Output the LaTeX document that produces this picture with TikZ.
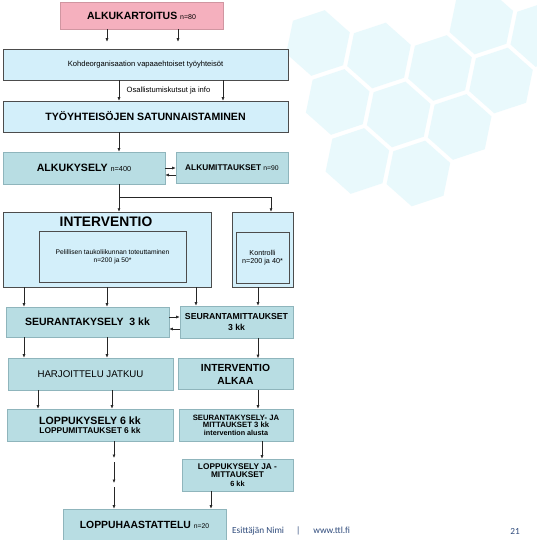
\documentclass[tikz,border=0pt]{standalone}
\usepackage{fontspec}
\setmainfont{Liberation Sans}
\newfontfamily\footfont{Carlito}
\usetikzlibrary{arrows.meta,calc}
\definecolor{pinkfill}{HTML}{F5B0BE}
\definecolor{lblue}{HTML}{D3EFFA}
\definecolor{tealfill}{HTML}{B8DDE3}
\definecolor{tealdraw}{HTML}{8FB5BC}
\definecolor{hexc}{HTML}{E9F9FC}
\definecolor{footc}{HTML}{2F4B7C}
\tikzset{
  boxbase/.style={rectangle, inner sep=1pt, align=center, text=black},
  pinkbox/.style={boxbase, fill=pinkfill, draw=pinkfill!85!black},
  bluebox/.style={boxbase, fill=lblue, draw=black!70, line width=0.5pt},
  tealbox/.style={boxbase, fill=tealfill, draw=tealdraw, line width=0.6pt},
  arr/.style={-{Latex[length=3.5pt,width=3pt]}, line width=0.6pt, black!85},
  ln/.style={line width=0.6pt, black!85},
  hexa/.style={fill=hexc},
}
\newcommand{\fs}[2]{\fontsize{#1}{#2}\selectfont}
\begin{document}
\begin{tikzpicture}[x=1pt,y=-1pt]
\useasboundingbox (0,0) rectangle (537,540);
\fill[white] (0,0) rectangle (537,540);
% background hexagons
\foreach \hx/\hy in {318/43,379/55.5,440/68,481.3/21.5,542.3/34,337.7/102,398.7/114.5,501/80.5,459.7/127,357.4/161,418.4/173.5}{
  \begin{scope}[shift={(\hx,\hy)}]
    \fill[hexa] (41.6:33.5) -- (101.6:33.5) -- (161.6:33.5) -- (221.6:33.5) -- (281.6:33.5) -- (341.6:33.5) -- cycle;
  \end{scope}
}
% nodes
\node[pinkbox, minimum width=163pt, minimum height=27pt, font=\fs{10.5}{12}\bfseries] (alku) at (141.5,15.5)
  {ALKUKARTOITUS \fs{7}{8}\mdseries n=80};
\node[bluebox, minimum width=285pt, minimum height=31pt, font=\fs{7.6}{9}] (kohde) at (145.5,64.5)
  {Kohdeorganisaation vapaaehtoiset työyhteisöt};
\node[bluebox, minimum width=285pt, minimum height=31pt, font=\fs{10.6}{12}\bfseries] (satun) at (145.5,116.5)
  {TYÖYHTEISÖJEN SATUNNAISTAMINEN};
\node[tealbox, minimum width=162pt, minimum height=32pt, font=\fs{10.6}{12}\bfseries] (alkuk) at (84,168)
  {ALKUKYSELY \fs{7.3}{8}\mdseries n=400};
\node[tealbox, minimum width=112pt, minimum height=31pt, font=\fs{8.3}{10}\bfseries] (alkum) at (232,167.5)
  {ALKUMITTAUKSET \fs{6.8}{8}\mdseries n=90};
\node[bluebox, minimum width=208pt, minimum height=75pt] (interv) at (107,249.5) {};
\node[inner sep=0pt, font=\fs{13.8}{15}\bfseries] (ititle) at (106,222) {INTERVENTIO};
\node[bluebox, minimum width=147pt, minimum height=51pt, font=\fs{6.7}{8.2}] (ibox) at (112.5,256.5)
  {Pelillisen taukoliikunnan toteuttaminen\\n=200 ja 50*};
\node[bluebox, minimum width=61pt, minimum height=75pt] (kontr) at (262.5,249.5) {};
\node[bluebox, minimum width=53pt, minimum height=51pt, font=\fs{7.2}{8.2}] (kbox) at (262.5,257.5)
  {Kontrolli\\n=200 ja 40*};
\node[tealbox, minimum width=163pt, minimum height=30pt, font=\fs{10.5}{12}\bfseries] (seurk) at (87.5,322)
  {SEURANTAKYSELY\ \ 3 kk};
\node[tealbox, minimum width=113pt, minimum height=32pt, font=\fs{8.7}{11}\bfseries] (seurm) at (236.5,322)
  {SEURANTAMITTAUKSET\\3 kk};
\node[tealbox, minimum width=165pt, minimum height=32pt, font=\fs{9.7}{11}] (harj) at (90.5,374)
  {HARJOITTELU JATKUU};
\node[tealbox, minimum width=115pt, minimum height=31pt, font=\fs{10.3}{13}\bfseries] (ialkaa) at (235.5,374)
  {INTERVENTIO\\ALKAA};
\node[tealbox, minimum width=166pt, minimum height=32pt, font=\fs{10.6}{9.3}\bfseries] (loppuk) at (90,425)
  {LOPPUKYSELY 6 kk\\\fs{8.4}{9.3}LOPPUMITTAUKSET 6 kk};
\node[tealbox, minimum width=114pt, minimum height=32pt, font=\fs{7.7}{7.6}\bfseries] (seurja) at (236,425)
  {SEURANTAKYSELY- JA\\MITTAUKSET 3 kk\\\fs{7.2}{7.6}intervention alusta};
\node[tealbox, minimum width=111pt, minimum height=32pt, font=\fs{8.3}{8.6}\bfseries] (loppuja) at (237.5,475)
  {LOPPUKYSELY JA -\\MITTAUKSET\\\fs{7.4}{8.6}6 kk};
\node[tealbox, minimum width=163pt, minimum height=31pt, font=\fs{10.4}{12}\bfseries] (haast) at (144.5,524.5)
  {LOPPUHAASTATTELU \fs{6.8}{8}\mdseries n=20};
% label and footer
\node[inner sep=0pt, font=\fs{7.6}{9}] (lbl) at (168.5,91) {Osallistumiskutsut ja info};
\node[inner sep=0pt, anchor=west, text=footc, font=\footfont\fs{9.3}{11}] (foot) at (232,531)
  {Esittäjän Nimi\hspace{12pt}|\hspace{13pt}www.ttl.fi};
\node[inner sep=0pt, text=footc, font=\footfont\fs{9.3}{11}] (page) at (515,531) {21};
% column and row coordinates
\coordinate (c24) at (24,0);   \coordinate (c38) at (38,0);
\coordinate (c107) at (107,0); \coordinate (c112) at (112,0);
\coordinate (c114) at (114,0); \coordinate (c119) at (119,0);
\coordinate (c178) at (178,0); \coordinate (c196) at (196,0);
\coordinate (c211) at (211,0); \coordinate (c223) at (223,0);
\coordinate (c258) at (258,0); \coordinate (c262) at (262,0);
\coordinate (c271) at (271,0);
\coordinate (r168) at (0,168); \coordinate (r175) at (0,175);
\coordinate (r317) at (0,317); \coordinate (r329) at (0,329);
\coordinate (split) at (119,197);
\coordinate (d1) at (114,458); \coordinate (d2) at (114,483);
% connectors
\draw[arr, shorten >=7pt] (alku.south -| c107) -- (kohde.north -| c107);
\draw[arr, shorten >=7pt] (alku.south -| c178) -- (kohde.north -| c178);
\draw[arr] (kohde.south -| c119) -- (satun.north -| c119);
\draw[arr] (kohde.south -| c223) -- (satun.north -| c223);
\draw[arr] (satun.south -| c119) -- (alkuk.north -| c119);
\draw[arr] (alkuk.east |- r168) -- (alkum.west |- r168);
\draw[arr] (alkum.west |- r175) -- (alkuk.east |- r175);
\draw[ln] (alkuk.south -| c119) -- (split);
\draw[arr] (split) -- (interv.north -| c119);
\draw[arr] (split) -| (kontr.north -| c271);
\draw[arr] (interv.south -| c24) -- (seurk.north -| c24);
\draw[arr] (interv.south -| c107) -- (seurk.north -| c107);
\draw[arr] (interv.south -| c196) -- (seurm.north -| c196);
\draw[arr] (kontr.south -| c258) -- (seurm.north -| c258);
\draw[arr] (seurk.east |- r317) -- (seurm.west |- r317);
\draw[arr] (seurm.west |- r329) -- (seurk.east |- r329);
\draw[arr] (seurk.south -| c24) -- (harj.north -| c24);
\draw[arr] (seurk.south -| c107) -- (harj.north -| c107);
\draw[arr] (seurm.south -| c258) -- (ialkaa.north -| c258);
\draw[arr] (harj.south -| c38) -- (loppuk.north -| c38);
\draw[arr] (harj.south -| c112) -- (loppuk.north -| c112);
\draw[arr] (ialkaa.south -| c258) -- (seurja.north -| c258);
\draw[arr] (loppuk.south -| c114) -- (d1);
\draw[arr] ([yshift=-4pt]d1) -- (d2);
\draw[arr] ([yshift=-4pt]d2) -- (haast.north -| c114);
\draw[arr] (seurja.south -| c262) -- (loppuja.north -| c262);
\draw[arr] (loppuja.south -| c211) -- (haast.north -| c211);
\end{tikzpicture}
\end{document}
